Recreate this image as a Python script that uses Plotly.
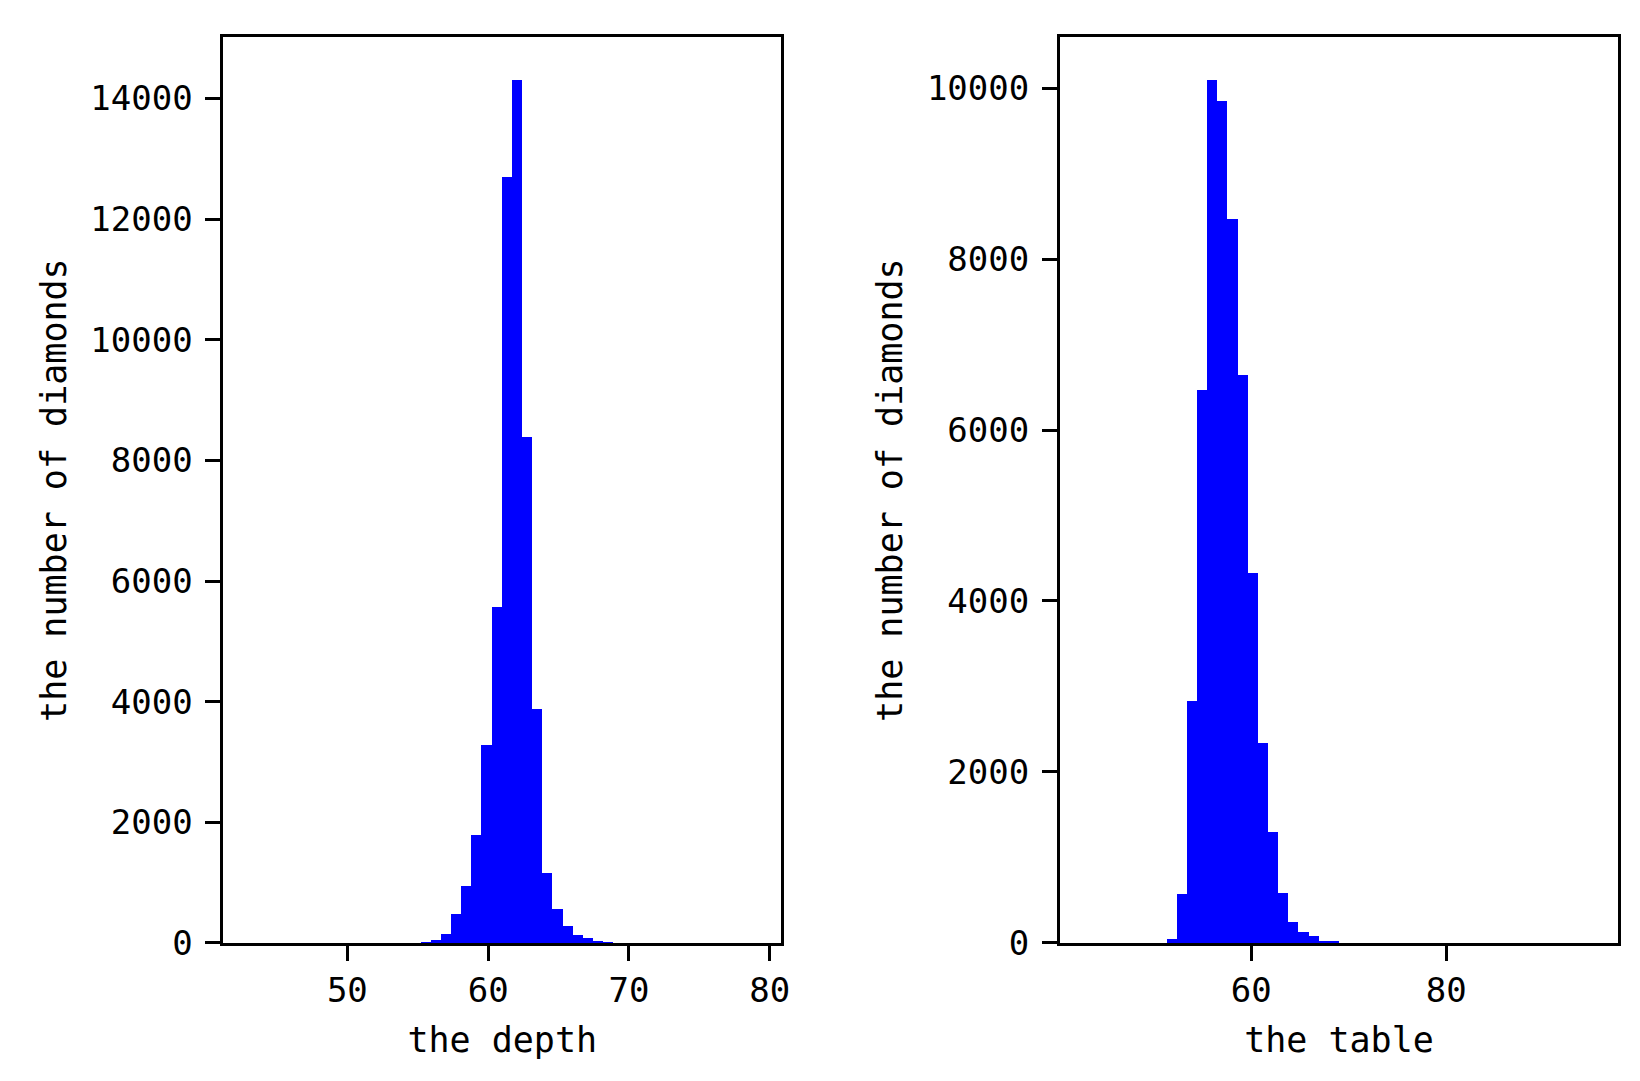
import numpy as np
import plotly.graph_objects as go
from plotly.subplots import make_subplots

# depth histogram: 50 bins from 43 to 79
depth_min, depth_max, n_bins = 43.0, 79.0, 50
depth_counts = [0, 0, 0, 0, 0, 0, 0, 0, 0, 0,
                0, 0, 0, 0, 0, 0, 0, 11, 50, 139,
                467, 934, 1785, 3270, 5570, 12690, 14300, 8390, 3870, 1151,
                550, 272, 122, 72, 33, 11, 0, 0, 0, 0,
                0, 0, 0, 0, 0, 0, 0, 0, 0, 0]

# table histogram: 50 bins from 43 to 95
table_min, table_max = 43.0, 95.0
table_counts = [0, 0, 0, 0, 0, 0, 0, 0, 45, 571,
                2821, 6462, 10089, 9840, 8464, 6636, 4319, 2331, 1290, 584,
                245, 128, 82, 25, 8, 0, 0, 0, 0, 0,
                0, 0, 0, 0, 0, 0, 0, 0, 0, 0,
                0, 0, 0, 0, 0, 0, 0, 0, 0, 0]

x_titles = ["the depth", "the table"]
y_title = "the number of diamonds"

FONT = "DejaVu Sans Mono"
FS_TITLE = 35
FS_TICK = 34

fig = make_subplots(rows=1, cols=2)

def add_hist(counts, lo, hi, col):
    edges = np.linspace(lo, hi, n_bins + 1)
    centers = (edges[:-1] + edges[1:]) / 2
    width = edges[1] - edges[0]
    fig.add_trace(go.Bar(x=centers, y=counts, width=width,
                         marker=dict(color="#0000ff", line=dict(width=0)),
                         showlegend=False), row=1, col=col)

add_hist(depth_counts, depth_min, depth_max, 1)
add_hist(table_counts, table_min, table_max, 2)

def rng(lo, hi):
    m = (hi - lo) * 0.05
    return [lo - m, hi + m]

axis_common = dict(showline=True, linecolor="black", linewidth=3, mirror=True,
                   ticks="outside", ticklen=15, tickwidth=3, tickcolor="black",
                   showgrid=False, zeroline=False, automargin=False,
                   tickfont=dict(family=FONT, size=FS_TICK, color="black"))

title_font = dict(family=FONT, size=FS_TITLE, color="black")

fig.update_layout(
    width=1640, height=1081,
    margin=dict(l=0, r=0, t=0, b=0),
    paper_bgcolor="white", plot_bgcolor="white",
    bargap=0,
    font=dict(family=FONT, size=FS_TICK, color="black"),
    xaxis=dict(domain=[0.1314, 0.4713], range=rng(depth_min, depth_max),
               tickvals=[50, 60, 70, 80],
               title=dict(text=x_titles[0], standoff=19, font=title_font),
               **axis_common),
    xaxis2=dict(domain=[0.6415, 0.9817], range=rng(table_min, table_max),
                tickvals=[60, 80],
                title=dict(text=x_titles[1], standoff=19, font=title_font),
                **axis_common),
    yaxis=dict(domain=[0.1351, 0.9729], range=[0, max(depth_counts) * 1.05],
               dtick=2000, tickformat="d", ticklabelstandoff=6,
               title=dict(text=y_title, standoff=14, font=title_font),
               **axis_common),
    yaxis2=dict(domain=[0.1351, 0.9729], range=[0, max(table_counts) * 1.05],
                dtick=2000, tickformat="d", ticklabelstandoff=6,
                title=dict(text=y_title, standoff=14, font=title_font),
                **axis_common),
)

fig.write_html("out.html")
